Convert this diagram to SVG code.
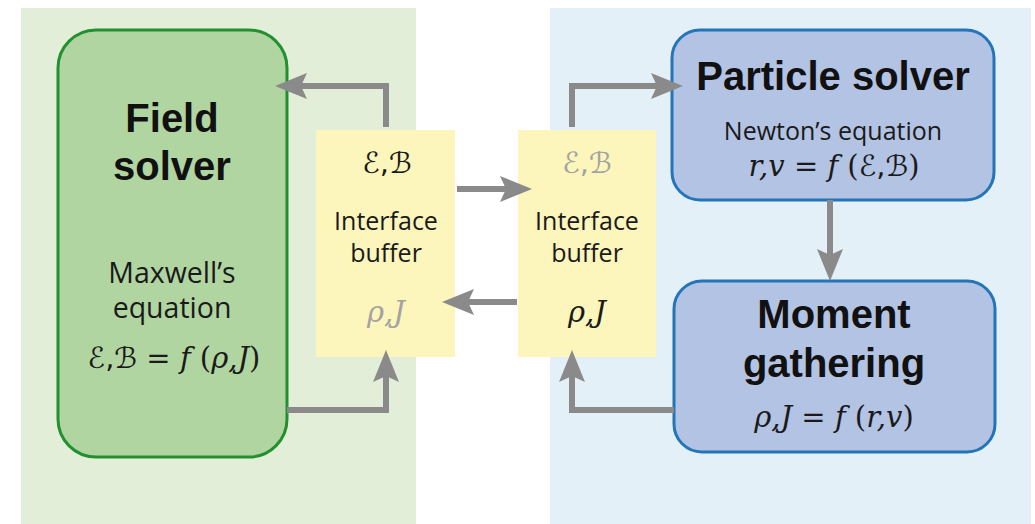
<svg xmlns="http://www.w3.org/2000/svg" width="1035" height="524" viewBox="0 0 1035 524">
<style>
.title{font-family:"Liberation Sans",Arial,sans-serif;font-weight:bold;font-size:40px;fill:#111;text-anchor:middle}
.lbl{font-family:"Open Sans","Noto Sans",sans-serif;font-size:25px;fill:#1a1a1a;text-anchor:middle}
.big{font-size:28.5px}
.math{font-family:"DejaVu Serif",serif;font-size:29px;fill:#1a1a1a;text-anchor:middle}
.it{font-style:italic}
.cal{font-family:"DejaVu Sans",sans-serif}
.dim{fill:#a3a3a3}
.conn{fill:none;stroke:#8a8a8a;stroke-width:6;stroke-linejoin:miter}
.buf{fill:#fcf5bc}
</style>
<defs>
<marker id="ah" viewBox="-7 -14 34 28" refX="0" refY="0" markerWidth="34" markerHeight="28" markerUnits="userSpaceOnUse" orient="auto">
<path d="M-6,-13 L26,0 L-6,13 L0,0 Z" fill="#8a8a8a"/>
</marker>
</defs>
<rect width="1035" height="524" fill="#ffffff"/>
<rect x="21" y="8" width="395" height="516" fill="#e2eed8"/>
<rect x="550" y="8" width="481" height="516" fill="#e3f0f8"/>

<g id="field-solver">
<rect x="58" y="30" width="229" height="427" rx="38" fill="#b1d5a1" stroke="#23902f" stroke-width="3"/>
<text class="title" x="172" y="132">Field</text>
<text class="title" x="172" y="180">solver</text>
<text class="lbl big" x="172" y="283">Maxwell’s</text>
<text class="lbl big" x="172" y="318">equation</text>
<text class="math" x="174" y="368"><tspan class="cal">ℰ,ℬ</tspan> = <tspan class="it">f</tspan> (<tspan class="it">ρ,J</tspan>)</text>
</g>

<g id="buffer-left">
<rect class="buf" x="316" y="130" width="139" height="227"/>
<text class="math" x="387" y="173"><tspan class="cal">ℰ,ℬ</tspan></text>
<text class="lbl" x="386" y="230">Interface</text>
<text class="lbl" x="386" y="262">buffer</text>
<text class="math dim it" x="386" y="322">ρ,J</text>
</g>

<g id="buffer-right">
<rect class="buf" x="518" y="130" width="138" height="227"/>
<text class="math dim" x="587" y="173"><tspan class="cal">ℰ,ℬ</tspan></text>
<text class="lbl" x="587" y="230">Interface</text>
<text class="lbl" x="587" y="262">buffer</text>
<text class="math it" x="587" y="322">ρ,J</text>
</g>

<g id="particle-solver">
<rect x="672" y="30" width="322" height="170" rx="28" fill="#b3c3e3" stroke="#2474b8" stroke-width="3"/>
<text class="title" x="833" y="90">Particle solver</text>
<text class="lbl" x="833" y="140" font-size="27">Newton’s equation</text>
<text class="math" x="834" y="176" font-size="28">
<tspan class="it">r,v</tspan> = <tspan class="it">f</tspan> (<tspan class="cal">ℰ,ℬ</tspan>)</text>
</g>

<g id="moment-gathering">
<rect x="674" y="281" width="321" height="171" rx="28" fill="#b3c3e3" stroke="#2474b8" stroke-width="3"/>
<text class="title" x="834" y="328">Moment</text>
<text class="title" x="834" y="377">gathering</text>
<text class="math" x="834" y="427"><tspan class="it">ρ,J</tspan> = <tspan class="it">f</tspan> (<tspan class="it">r,v</tspan>)</text>
</g>

<g id="connectors">
<path class="conn" d="M386,127 V86 H301" marker-end="url(#ah)"/>
<path class="conn" d="M287,410 H386 V376" marker-end="url(#ah)"/>
<path class="conn" d="M457,189 H506" marker-end="url(#ah)"/>
<path class="conn" d="M517,302 H468" marker-end="url(#ah)"/>
<path class="conn" d="M572,127 V86 H657" marker-end="url(#ah)"/>
<path class="conn" d="M830,200 V255" marker-end="url(#ah)"/>
<path class="conn" d="M674,410 H572 V376" marker-end="url(#ah)"/>
</g>
</svg>
